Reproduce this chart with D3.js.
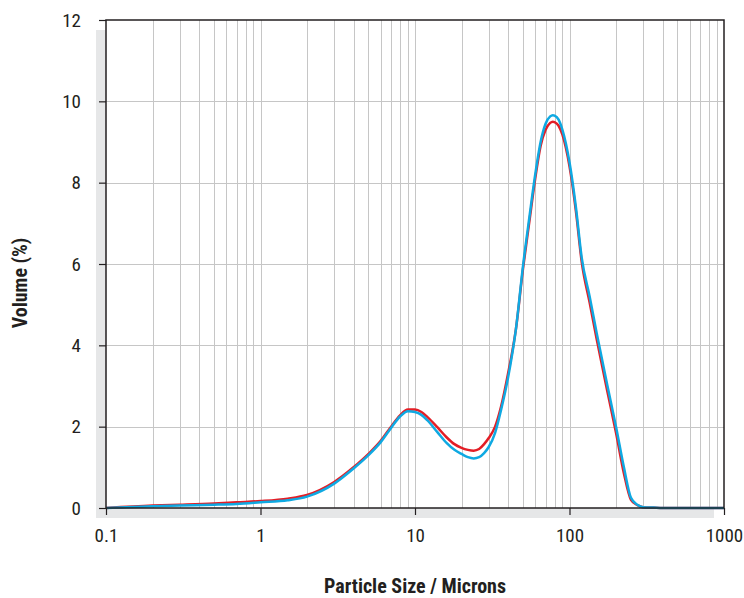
<!DOCTYPE html>
<html>
<head>
<meta charset="utf-8">
<script src="https://cdn.jsdelivr.net/npm/d3@7"></script>
<style>
  html, body { margin: 0; padding: 0; background: #fff; }
  svg { display: block; }
</style>
</head>
<body>
<svg id="chart" width="744" height="598"></svg>
<script>
// Particle sizes (microns)
const sizes = [0.1, 0.2, 0.3, 0.5, 0.7, 1, 1.5, 2, 3, 4, 5, 6, 7, 8, 9, 10, 11, 12, 14, 16, 18, 20, 22, 24, 26, 28, 30, 33, 36, 40, 45, 50, 55, 60, 65, 70, 75, 78, 80, 85, 90, 100, 110, 120, 135, 150, 175, 200, 225, 250, 275, 300, 350, 400, 500, 700, 1000];
// Volume (%) – red series
const redValues = [0, 0.06, 0.08, 0.11, 0.14, 0.17, 0.23, 0.32, 0.64, 1.0, 1.33, 1.65, 2.0, 2.28, 2.42, 2.42, 2.36, 2.24, 1.98, 1.74, 1.57, 1.48, 1.43, 1.41, 1.45, 1.57, 1.72, 2.0, 2.48, 3.3, 4.4, 5.88, 7.05, 8.1, 8.9, 9.3, 9.47, 9.5, 9.49, 9.4, 9.18, 8.4, 7.3, 6.05, 5.05, 4.15, 2.9, 1.85, 0.85, 0.2, 0.07, 0.02, 0.01, 0, 0, 0, 0];
// Volume (%) – blue series
const blueValues = [0, 0.04, 0.06, 0.08, 0.1, 0.14, 0.19, 0.28, 0.6, 0.97, 1.3, 1.62, 1.97, 2.25, 2.38, 2.36, 2.29, 2.16, 1.86, 1.6, 1.43, 1.33, 1.25, 1.22, 1.25, 1.35, 1.5, 1.85, 2.4, 3.2, 4.4, 5.95, 7.15, 8.2, 9.0, 9.45, 9.63, 9.66, 9.65, 9.55, 9.3, 8.5, 7.4, 6.15, 5.2, 4.3, 3.05, 2.0, 1.0, 0.25, 0.08, 0.02, 0.01, 0, 0, 0, 0];
const xTickValues = [0.1, 1, 10, 100, 1000];
const xTickLabels = ["0.1", "1", "10", "100", "1000"];
const yTickValues = [0, 2, 4, 6, 8, 10, 12];

const svg = d3.select("#chart");
const mLeft = 106, mRight = 724, mTop = 20, mBottom = 508;
const font = "'Liberation Sans Narrow', 'Arial Narrow', 'Roboto Condensed', 'Liberation Sans', sans-serif";

const x = d3.scaleLog().domain([0.1, 1000]).range([mLeft, mRight]);
const y = d3.scaleLinear().domain([0, 12]).range([mBottom, mTop]);

// shadow
svg.append("rect").attr("x", mLeft - 10).attr("y", mTop + 10)
  .attr("width", mRight - mLeft).attr("height", mBottom - mTop).attr("fill", "#e6e7e8");
svg.append("rect").attr("x", mLeft).attr("y", mTop)
  .attr("width", mRight - mLeft).attr("height", mBottom - mTop).attr("fill", "#fff");

// grid
const minor = [];
for (let d = 0.1; d < 1000; d *= 10) for (let k = 1; k <= 9; k++) minor.push(+(d * k).toPrecision(3));
svg.append("g").selectAll("line").data(minor.filter(v => v > 0.1)).join("line")
  .attr("x1", d => Math.round(x(d)) + 0.5).attr("x2", d => Math.round(x(d)) + 0.5)
  .attr("y1", mTop).attr("y2", mBottom)
  .attr("stroke", "#c6c6c6").attr("stroke-width", 1);
svg.append("g").selectAll("line").data(yTickValues.filter(v => v > 0 && v < 12)).join("line")
  .attr("x1", mLeft).attr("x2", mRight)
  .attr("y1", d => Math.round(y(d)) + 0.5).attr("y2", d => Math.round(y(d)) + 0.5)
  .attr("stroke", "#c6c6c6").attr("stroke-width", 1);

// lines
const line = d3.line().x(d => x(d[0])).y(d => y(d[1])).curve(d3.curveMonotoneX);
svg.append("path").datum(sizes.map((s, i) => [s, redValues[i]]))
  .attr("d", line).attr("fill", "none").attr("stroke", "#e31e26").attr("stroke-width", 2.5);
svg.append("path").datum(sizes.map((s, i) => [s, blueValues[i]]))
  .attr("d", line).attr("fill", "none").attr("stroke", "#0fa9e2").attr("stroke-width", 2.5);

// frame
svg.append("rect").attr("x", mLeft).attr("y", mTop)
  .attr("width", mRight - mLeft).attr("height", mBottom - mTop)
  .attr("fill", "none").attr("stroke", "#231f20").attr("stroke-width", 1.5);

// axes
const xAxis = d3.axisBottom(x).tickValues(xTickValues)
  .tickFormat((d, i) => xTickLabels[i]).tickSize(7).tickPadding(14);
const gx = svg.append("g").attr("transform", `translate(0,${mBottom})`).call(xAxis);
const yAxis = d3.axisLeft(y).tickValues(yTickValues).tickSize(7).tickPadding(18);
const gy = svg.append("g").attr("transform", `translate(${mLeft},0)`).call(yAxis);
[gx, gy].forEach(g => {
  g.select(".domain").remove();
  g.selectAll(".tick line").attr("stroke", "#231f20").attr("stroke-width", 1.2);
  g.selectAll(".tick text").attr("fill", "#231f20").style("font-family", font).style("font-size", "19px");
});

// titles
svg.append("text").attr("x", 415).attr("y", 593).attr("text-anchor", "middle")
  .style("font-family", font).style("font-size", "20px").style("font-weight", "bold")
  .attr("fill", "#231f20").text("Particle Size / Microns");
svg.append("text").attr("transform", "translate(27,283) rotate(-90)").attr("text-anchor", "middle")
  .style("font-family", font).style("font-size", "20px").style("font-weight", "bold")
  .attr("fill", "#231f20").text("Volume (%)");
</script>
</body>
</html>
